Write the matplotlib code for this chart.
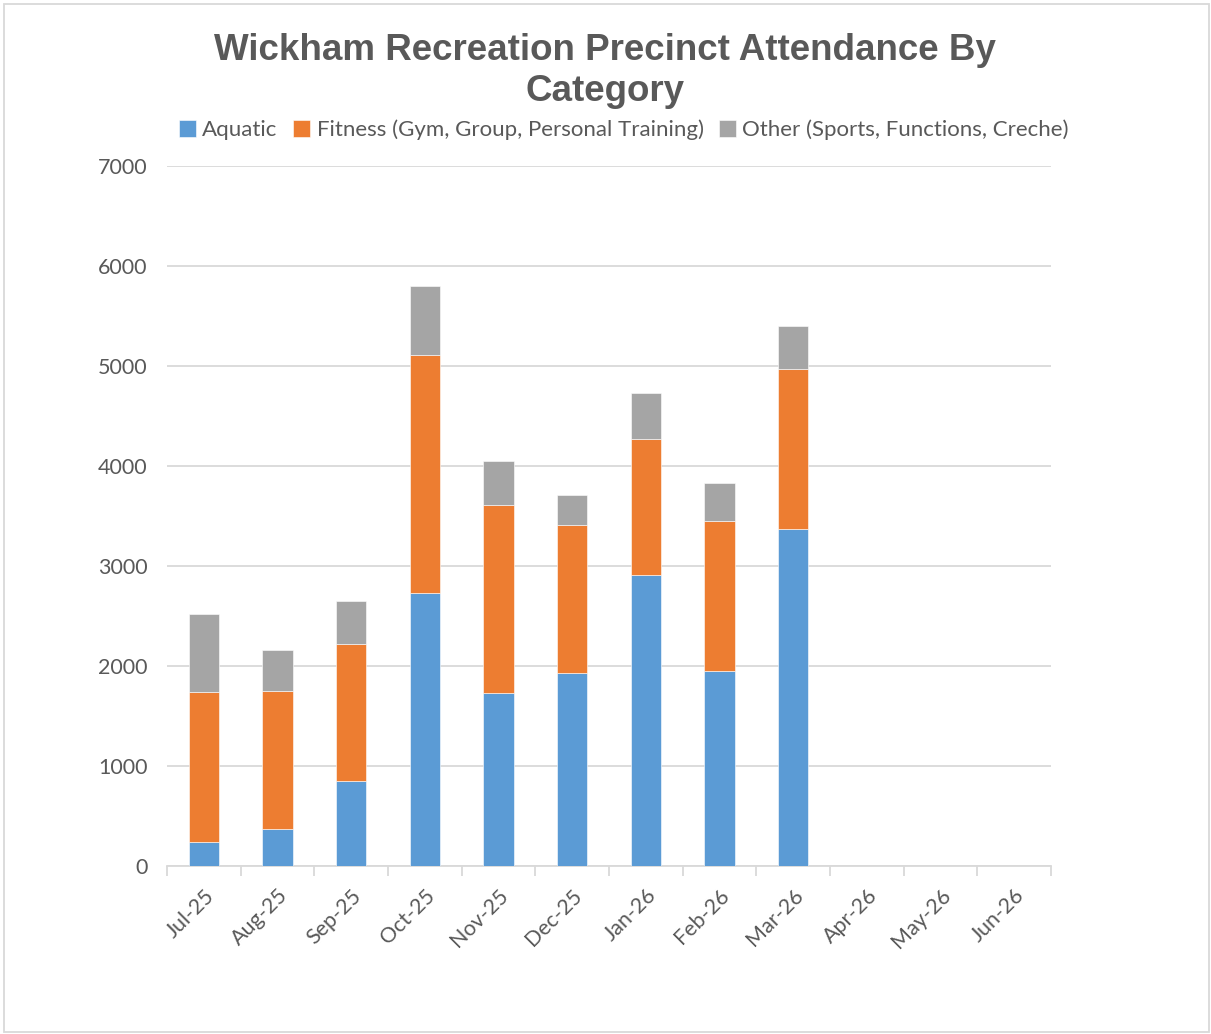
import matplotlib.pyplot as plt
import numpy as np

# dados
meses = ["Jul-25", "Aug-25", "Sep-25", "Oct-25", "Nov-25", "Dec-25",
         "Jan-26", "Feb-26", "Mar-26", "Apr-26", "May-26", "Jun-26"]
aquatic = [240, 370, 850, 2730, 1730, 1930, 2910, 1950, 3370, 0, 0, 0]
fitness = [1500, 1380, 1370, 2380, 1880, 1480, 1360, 1500, 1600, 0, 0, 0]
other = [780, 410, 430, 690, 440, 300, 460, 380, 430, 0, 0, 0]

cor_texto = '#595959'
plt.rcParams['font.family'] = ['Lato', 'DejaVu Sans']

fig = plt.figure(figsize=(12.11, 10.34), dpi=100)
ax = fig.add_axes([167/1211, 1-866/1034, 884/1211, 700/1034])

x = np.arange(len(meses))
w = 0.41
a = np.array(aquatic)
f = np.array(fitness)
o = np.array(other)
ax.bar(x, a, w, color='#5B9BD5', label='Aquatic', edgecolor='white', linewidth=0.4, zorder=3)
ax.bar(x, f, w, bottom=a, color='#ED7D31', label='Fitness (Gym, Group, Personal Training)',
       edgecolor='white', linewidth=0.4, zorder=3)
ax.bar(x, o, w, bottom=a+f, color='#A5A5A5', label='Other (Sports, Functions, Creche)',
       edgecolor='white', linewidth=0.4, zorder=3)

ax.set_xlim(-0.5, len(meses)-0.5)
ax.set_ylim(0, 7000)
ax.set_yticks(range(0, 7001, 1000))
ax.yaxis.grid(True, color='#D9D9D9', linewidth=1.3, zorder=0)
ax.tick_params(axis='y', length=0, labelsize=15.5, labelcolor=cor_texto, pad=14)

ax.set_xticks(x)
ax.set_xticklabels(meses, rotation=45, ha='right', rotation_mode='anchor')
ax.tick_params(axis='x', which='major', length=0, labelsize=15.5, labelcolor=cor_texto, pad=14)
ax.set_xticks(np.arange(-0.5, len(meses), 1), minor=True)
ax.tick_params(axis='x', which='minor', length=7, width=1.3, color='#D9D9D9', direction='out')

for lado in ['top', 'right', 'left']:
    ax.spines[lado].set_visible(False)
ax.spines['bottom'].set_color('#D9D9D9')
ax.spines['bottom'].set_linewidth(1.3)

fig.text(0.5, 1-71/1034, 'Wickham Recreation Precinct Attendance By\nCategory',
         ha='center', va='center', fontsize=26.5, fontweight='bold', color=cor_texto,
         family=['Liberation Sans', 'DejaVu Sans'], linespacing=1.2)

leg = fig.legend(loc='center', bbox_to_anchor=(624/1211, 1-130/1034), ncol=3, frameon=False,
                 fontsize=16, handlelength=0.75, handleheight=0.75, handletextpad=0.3,
                 columnspacing=0.7, labelcolor=cor_texto)

# moldura
fig.patches.append(plt.Rectangle((4/1211, 0.002), 1-6/1211, 1-6/1034, transform=fig.transFigure,
                                 fill=False, edgecolor='#D9D9D9', linewidth=1.3))

fig.savefig('out.png', dpi=100)
